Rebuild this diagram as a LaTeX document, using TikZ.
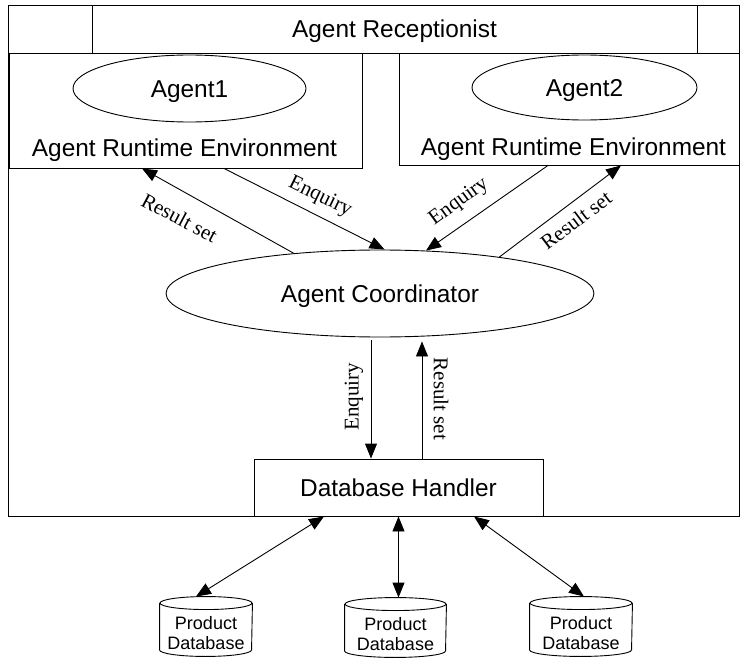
\documentclass[tikz,border=0pt]{standalone}
\usepackage{fontspec}
\setmainfont{Liberation Serif}
\setsansfont{Liberation Sans}
\usetikzlibrary{arrows.meta,shapes.geometric}

\begin{document}
\begin{tikzpicture}[x=1pt,y=-1pt,line width=0.9pt,
  sans/.style={font=\sffamily\fontsize{24.4pt}{29pt}\selectfont,
               text height=17.5pt,text depth=0pt},
  box/.style={draw,rectangle,inner sep=0pt,sans},
  oval/.style={draw,ellipse,inner sep=0pt,sans},
  lbl/.style={font=\rmfamily\fontsize{21pt}{25pt}\selectfont,inner sep=0pt},
  dbbody/.style={rectangle,inner sep=0pt},
  dbtext/.style={font=\sffamily\fontsize{18pt}{20pt}\selectfont,
                 align=center,inner sep=0pt},
  tip/.tip={Triangle[length=15pt,width=12pt]},
  arr/.style={-tip},
  darr/.style={tip-tip}]

\useasboundingbox (0,0) rectangle (740,658);

% outer frame and receptionist band
\node[box,minimum width=731pt,minimum height=511pt] (frame) at (373.5,260.5) {};
\node[box,minimum width=605pt,minimum height=48pt] (recep) at (394.5,29) {Agent Receptionist};

% runtime environments with their agents
\node[box,minimum width=353pt,minimum height=115pt] (env1) at (185.5,110.5) {};
\node[box,minimum width=340pt,minimum height=112pt] (env2) at (569,109) {};
\node[oval,minimum width=233pt,minimum height=67pt] (agent1) at (189.5,88.5) {Agent1};
\node[oval,minimum width=225pt,minimum height=65pt] (agent2) at (584.5,87.5) {Agent2};
\node[sans,inner sep=0pt] (envtext1) at (184.5,148) {Agent Runtime Environment};
\node[sans,inner sep=0pt] (envtext2) at (573.5,147) {Agent Runtime Environment};

% coordinator and database handler
\node[oval,minimum width=428pt,minimum height=87pt] (coord) at (380,293.5) {Agent Coordinator};
\node[box,minimum width=289pt,minimum height=57pt] (dbh) at (398.5,487.5) {Database Handler};

% environments <-> coordinator
\draw[arr] (coord.155) -- ([xshift=-43.5pt]env1.south);
\draw[arr] ([xshift=38.5pt]env1.south) -- (coord.84);
\draw[arr] ([xshift=-21pt]env2.south) -- (coord.43);
\draw[arr] (coord.17) -- ([xshift=52pt]env2.south);

\node[lbl,rotate=-28] (rs1) at (179.5,218) {Result set};
\node[lbl,rotate=-26] (enq1) at (320,197) {Enquiry};
\node[lbl,rotate=36] (enq2) at (459,202) {Enquiry};
\node[lbl,rotate=37] (rs2) at (576,220) {Result set};

% coordinator <-> database handler
\draw[arr] ([xshift=-9pt,yshift=-3pt]coord.south) -- ([xshift=-9pt]coord.south |- dbh.north);
\draw[arr] ([xshift=42pt]coord.south |- dbh.north) -- ([xshift=42pt,yshift=-4pt]coord.south);
\node[lbl,rotate=90] (enq3) at (354,397) {Enquiry};
\node[lbl,rotate=-90] (rs3) at (441,399) {Result set};

% product databases
\foreach \n/\cx/\cy/\w in {db1/206/626.5/92, db2/395.5/627.5/101, db3/581/626.5/102}{
  \node[dbbody,minimum width=\w pt,minimum height=59pt] (\n) at (\cx,\cy) {};
  \draw ([yshift=-6.5pt]\n.north) ellipse[x radius=\w pt/2,y radius=6.5pt];
  \draw ([yshift=-6.5pt]\n.north west) -- ([yshift=6.5pt]\n.south west)
        arc[start angle=180,end angle=360,x radius=\w pt/2,y radius=6.5pt]
        -- ([yshift=-6.5pt]\n.north east);
  \node[dbtext] at ([yshift=-6.5pt]\n.center) {Product\\Database};
}

% handler <-> databases
\draw[darr] ([xshift=-74.5pt]dbh.south) -- ([xshift=-10pt]db1.north);
\draw[darr] (dbh.south) -- (dbh.south |- db2.north);
\draw[darr] ([xshift=75.5pt]dbh.south) -- ([xshift=3pt]db3.north);

\end{tikzpicture}
\end{document}
